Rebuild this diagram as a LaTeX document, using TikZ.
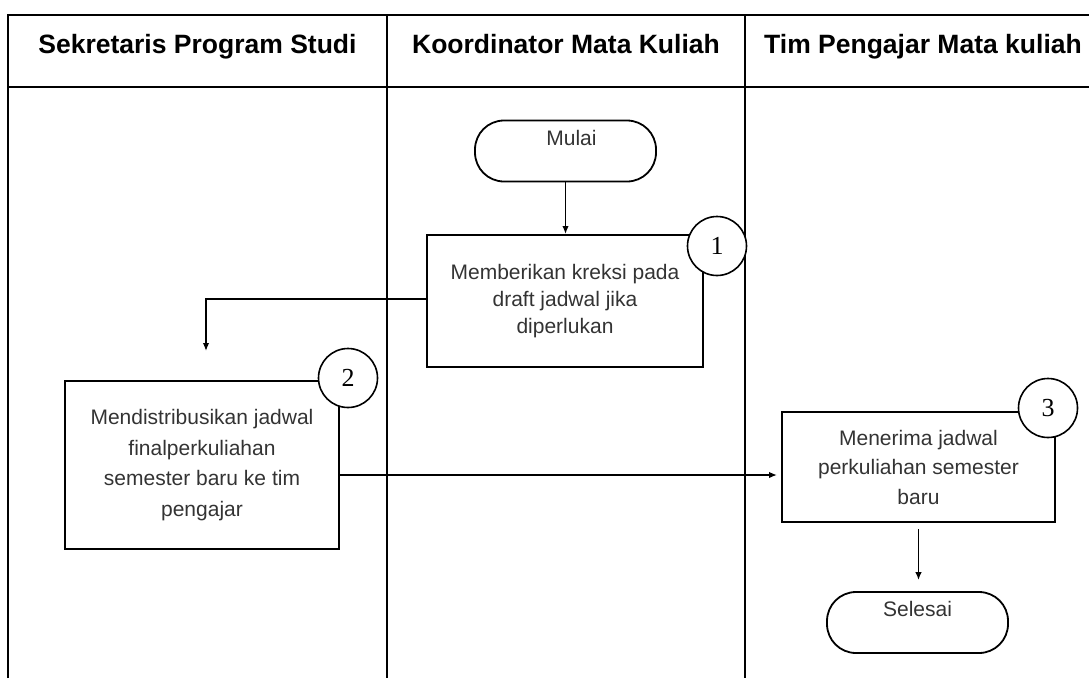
\documentclass[tikz,border=0pt]{standalone}
\usepackage{fontspec}
\setmainfont{Liberation Sans}
\newfontfamily\numfont{Liberation Serif}
\usetikzlibrary{arrows.meta}
\definecolor{txt}{HTML}{333333}
\begin{document}
\begin{tikzpicture}[x=1pt,y=-1pt,
  lane/.style={line width=2.8pt},
  hdr/.style={anchor=base, inner sep=0pt, font=\fontsize{26.5}{30}\selectfont\bfseries},
  proc/.style={draw, line width=2pt, rectangle, inner sep=0pt, align=center, text=txt, font=\fontsize{21}{29.5}\selectfont},
  term/.style={draw, line width=1.8pt, rounded corners=29pt, inner sep=0pt, minimum width=181pt, minimum height=61pt, text=txt, font=\fontsize{21}{25}\selectfont, text height=15pt, text depth=27pt},
  num/.style={draw, circle, fill=white, line width=1.6pt, minimum size=59pt, inner sep=0pt, font=\numfont\fontsize{26}{28}\selectfont},
  arr/.style={line width=1.5pt, -{Latex[length=8pt,width=6.5pt]}}
]
\useasboundingbox (0,0) rectangle (1089,678);
% swimlane table
\draw[lane] (8,678) -- (8,15) -- (1089,15);
\draw[lane] (8,87) -- (1089,87);
\draw[lane] (387,15) -- (387,678);
\draw[lane] (745,15) -- (745,678);
% headers
\node[hdr] (h1) at (197.5,53) {Sekretaris Program Studi};
\node[hdr] (h2) at (566,53) {Koordinator Mata Kuliah};
\node[hdr] (h3) at (923,53) {Tim Pengajar Mata kuliah};
% nodes
\node[term] (mulai) at (565.5,151) {\hspace*{12pt}Mulai};
\node[proc, minimum width=276pt, minimum height=132pt, font=\fontsize{21}{27}\selectfont] (b1) at (565,301) {Memberikan kreksi pada\\draft jadwal jika\\diperlukan};
\node[proc, minimum width=274pt, minimum height=168pt, font=\fontsize{21}{30.5}\selectfont] (b2) at (202,465) {Mendistribusikan jadwal\\finalperkuliahan\\semester baru ke tim\\pengajar};
\node[proc, minimum width=273pt, minimum height=110pt] (b3) at (918.5,467) {Menerima jadwal\\perkuliahan semester\\baru};
\node[term] (sel) at (917.5,622.5) {Selesai};
\node[num] (n1) at (717,246) {1};
\node[num] (n2) at (348,378) {2};
\node[num] (n3) at (1048,408) {3};
% connectors
\coordinate (c2) at (206,351);
\draw[arr] (mulai.south) -- (mulai.south |- b1.north);
\draw[arr] ([yshift=2pt]b1.west) -| (c2);
\draw[arr, shorten >=4pt] ([yshift=-10pt]b2.east) -- ([yshift=-8pt]b3.west);
\draw[arr, shorten <=6pt, shorten >=11pt] (b3.south) -- (b3.south |- sel.north);
\end{tikzpicture}
\end{document}
